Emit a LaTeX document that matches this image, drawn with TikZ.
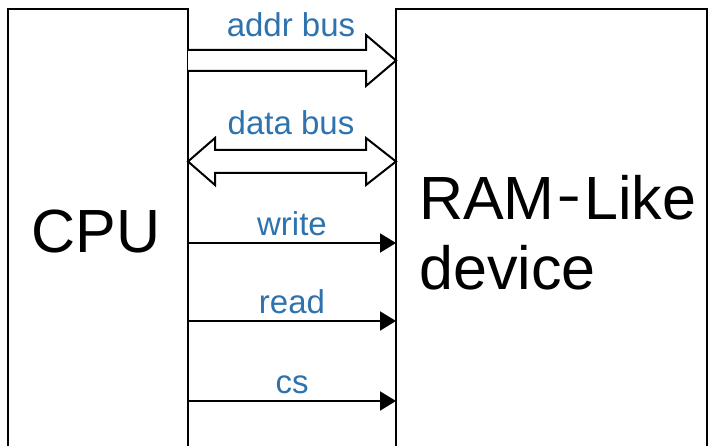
\documentclass[tikz,border=0pt]{standalone}
\usepackage{fontspec}
\setmainfont{Liberation Sans}
\usepackage{xcolor}
\usepackage{graphicx}
\usetikzlibrary{arrows.meta}
\definecolor{labelblue}{HTML}{2E72AE}
\tikzstyle{unitbox} = [
    draw=black,
    line width=2pt,
    rectangle,
    inner sep=0pt,
    outer sep=0pt,
    anchor=north west
    ]
\tikzstyle{unitname} = [
    font=\fontsize{61}{70}\selectfont,
    inner sep=0pt
    ]
\tikzstyle{bus} = [draw=black, line width=2pt, fill=white, line join=miter]
\tikzstyle{sig} = [draw=black, line width=2pt, -{Triangle[length=16pt,width=19pt]}]
\tikzstyle{siglabel} = [
    text=labelblue,
    font=\fontsize{33}{40}\selectfont,
    inner sep=0pt,
    anchor=base
    ]

\begin{document}
\begin{tikzpicture}[x=1pt,y=-1pt]
\useasboundingbox (0,0) rectangle (710,446);
% the two units, open at the bottom
\node[unitbox, minimum width=180.5pt, minimum height=480pt] (cpu) at (7.5,9.5) {};
\node[unitbox, minimum width=311pt, minimum height=480pt] (ram) at (396,9.5) {};
\node[unitname, anchor=base] (cpuname) at (96,253) {CPU};
\node[unitname, anchor=base west] (ramname) at (419,220) {RAM\kern4pt\scalebox{0.6}[1]{−}\kern4pt Like};
\node[unitname, anchor=base west] (ramname2) at (419,290) {device};

% address bus
\coordinate (addrout) at (188,60.5);
\coordinate (addrin) at (396,60.5);
\draw[bus] (188,50) -- (366,50) -- (366,35) -- (addrin) -- (366,86) -- (366,71) -- (188,71);
\node[siglabel] (addrlbl) at (291,37) {addr bus};

% data bus
\coordinate (dataout) at (188,161.5);
\coordinate (datain) at (396,161.5);
\draw[bus] (dataout) -- (215,138) -- (215,150) -- (366,150) -- (366,138) -- (datain)
    -- (366,185) -- (366,173) -- (215,173) -- (215,185) -- cycle;
\node[siglabel] (datalbl) at (291,135) {data bus};

% control lines
\foreach \y/\name in {243/write, 321/read, 401/cs}{
    \coordinate (\name out) at (188,\y);
    \coordinate (\name in) at (396,\y);
    \draw[sig] (\name out) -- (\name in);
    \node[siglabel] (\name lbl) at (292,\y-7) {\name};
}
\end{tikzpicture}
\end{document}
